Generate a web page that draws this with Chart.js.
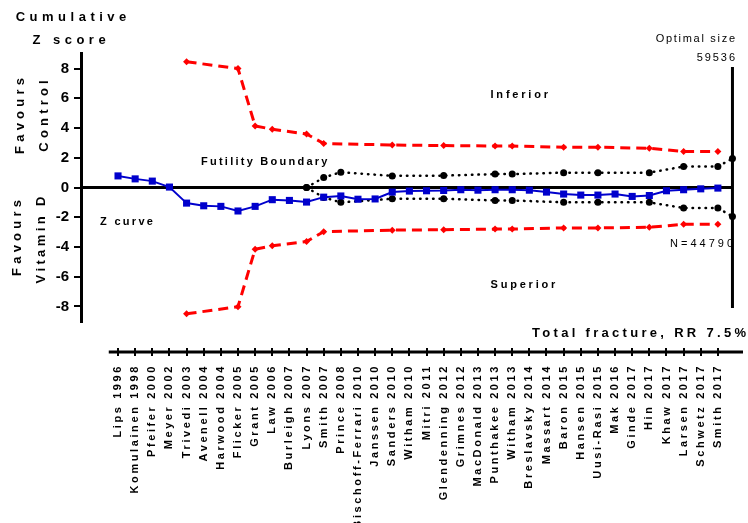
<!DOCTYPE html>
<html>
<head>
<meta charset="utf-8">
<script src="https://cdn.jsdelivr.net/npm/chart.js@4.4.1/dist/chart.umd.min.js"></script>
<style>
  html, body { margin: 0; padding: 0; background: #fff; }
  #wrap { width: 748px; height: 523px; }
</style>
</head>
<body>
<div id="wrap"><canvas id="c" width="748" height="523"></canvas></div>
<script>
// Trials in order of accrual (one position each on the horizontal axis)
const trials = [
  'Lips 1996', 'Komulainen 1998', 'Pfeifer 2000', 'Meyer 2002', 'Trivedi 2003',
  'Avenell 2004', 'Harwood 2004', 'Flicker 2005', 'Grant 2005', 'Law 2006',
  'Burleigh 2007', 'Lyons 2007', 'Smith 2007', 'Prince 2008', 'Bischoff-Ferrari 2010',
  'Janssen 2010', 'Sanders 2010', 'Witham 2010', 'Mitri 2011', 'Glendenning 2012',
  'Grimnes 2012', 'MacDonald 2013', 'Punthakee 2013', 'Witham 2013', 'Breslavsky 2014',
  'Massart 2014', 'Baron 2015', 'Hansen 2015', 'Uusi-Rasi 2015', 'Mak 2016',
  'Ginde 2017', 'Hin 2017', 'Khaw 2017', 'Larsen 2017', 'Schwetz 2017', 'Smith 2017'
];

// Cumulative Z score after each trial
const zCurve = [
  0.78, 0.58, 0.43, 0.03, -1.05, -1.23, -1.27, -1.58, -1.27, -0.82,
  -0.87, -0.98, -0.65, -0.57, -0.79, -0.77, -0.31, -0.24, -0.22, -0.20,
  -0.15, -0.18, -0.15, -0.15, -0.18, -0.31, -0.44, -0.51, -0.51, -0.44,
  -0.60, -0.54, -0.22, -0.15, -0.09, -0.04
];

// Monitoring boundaries for benefit / harm (red)
const boundaryAt = [4, 7, 8, 9, 11, 12, 16, 19, 22, 23, 26, 28, 31, 33, 35];
const harmBoundary = [8.46, 8.00, 4.14, 3.92, 3.60, 2.96, 2.86, 2.82, 2.79, 2.79, 2.71, 2.71, 2.64, 2.42, 2.42];
const benefitBoundary = [-8.50, -8.02, -4.15, -3.92, -3.64, -2.97, -2.87, -2.84, -2.80, -2.80, -2.72, -2.72, -2.68, -2.47, -2.47];

// Futility boundaries (black, dotted); the last look sits on the optimal-size line
const optimalSizeAt = 35.85;
const futilityAt = [11, 12, 13, 16, 19, 22, 23, 26, 28, 31, 33, 35, optimalSizeAt];
const futilityUpper = [0, 0.67, 1.03, 0.78, 0.80, 0.90, 0.90, 1.00, 1.00, 1.00, 1.41, 1.41, 1.95];
const futilityLower = [0, -0.67, -1.00, -0.76, -0.76, -0.87, -0.87, -1.00, -1.00, -1.00, -1.38, -1.38, -1.95];

// Vertical extent of the optimal information size marker
const optimalSizeSpan = [8.1, -8.1];

const zTicks = [-8, -6, -4, -2, 0, 2, 4, 6, 8];

// ---- layout ----
const FONT = "'Liberation Sans', Arial, sans-serif";
const X_MIN = -2.16, X_MAX = 36.465;
const Y_MIN = -9.05, Y_MAX = 9.05;
const TRIAL_AXIS_START = -0.54;

const pts = (xs, ys) => ys.map((y, i) => ({ x: xs[i], y }));

// Bold, widely tracked tick labels on the trial axis
const trackedTicks = {
  id: 'trackedTicks',
  afterLayout(chart) {
    const s = chart.scales.x;
    if (s._tracked) return;
    const orig = s.drawLabels;
    s.drawLabels = function (area) {
      const ctx = this.ctx;
      ctx.save();
      ctx.letterSpacing = '2.6px';
      orig.call(this, area);
      ctx.restore();
    };
    s._tracked = true;
  }
};

// Trial axis line with crossing tick marks, below the plot
const trialAxisLine = {
  id: 'trialAxisLine',
  afterDraw(chart) {
    const s = chart.scales.x;
    const ctx = chart.ctx;
    const y = s.top;
    ctx.save();
    ctx.strokeStyle = '#000';
    ctx.lineWidth = 3;
    ctx.beginPath();
    ctx.moveTo(s.getPixelForValue(TRIAL_AXIS_START), y);
    ctx.lineTo(s.right, y);
    ctx.stroke();
    ctx.lineWidth = 2;
    s.ticks.forEach((t, i) => {
      const px = Math.round(s.getPixelForTick(i));
      ctx.beginPath();
      ctx.moveTo(px, y - 4);
      ctx.lineTo(px, y + 4);
      ctx.stroke();
    });
    ctx.restore();
  }
};

// Free text on the chart
const notes = [
  { text: 'Cumulative', x: 71, y: 17, size: 13, bold: true, sp: 4.5, align: 'center' },
  { text: 'Z score', x: 69, y: 40, size: 13, bold: true, sp: 4.5, align: 'center' },
  { text: 'Favours', x: 20, y: 116, size: 13, bold: true, sp: 4.2, align: 'center', vertical: true },
  { text: 'Control', x: 44.5, y: 116, size: 13, bold: true, sp: 4.2, align: 'center', vertical: true },
  { text: 'Favours', x: 17, y: 238, size: 13, bold: true, sp: 4.2, align: 'center', vertical: true },
  { text: 'Vitamin D', x: 41, y: 240, size: 13, bold: true, sp: 3.4, align: 'center', vertical: true },
  { text: 'Z curve', x: 100, y: 222, size: 11, bold: true, sp: 2.3, align: 'left' },
  { text: 'Futility Boundary', x: 201, y: 162, size: 11, bold: true, sp: 2.25, align: 'left' },
  { text: 'Inferior', x: 490.5, y: 95, size: 11, bold: true, sp: 2.8, align: 'left' },
  { text: 'Superior', x: 490.5, y: 285, size: 11, bold: true, sp: 2.8, align: 'left' },
  { text: 'Optimal size', x: 735, y: 39, size: 11, bold: false, sp: 1.7, align: 'right' },
  { text: '59536', x: 735, y: 58, size: 11, bold: false, sp: 1.9, align: 'right' },
  { text: 'N=44790', x: 733, y: 244, size: 11, bold: false, sp: 3, align: 'right' },
  { text: 'Total fracture, RR 7.5%', x: 746, y: 333, size: 13, bold: true, sp: 3.3, align: 'right' }
];

const notesPlugin = {
  id: 'notes',
  afterDraw(chart) {
    const ctx = chart.ctx;
    notes.forEach(n => {
      ctx.save();
      ctx.font = (n.bold ? 'bold ' : '') + n.size + 'px ' + FONT;
      ctx.letterSpacing = n.sp + 'px';
      ctx.fillStyle = '#000';
      ctx.textBaseline = 'middle';
      ctx.textAlign = n.align;
      // canvas adds tracking after the last glyph too; shift to compensate
      const shift = n.align === 'right' ? n.sp : n.align === 'center' ? n.sp / 2 : 0;
      if (n.vertical) {
        ctx.translate(n.x, n.y);
        ctx.rotate(-Math.PI / 2);
        ctx.fillText(n.text, shift, 0);
      } else {
        ctx.fillText(n.text, n.x + shift, n.y);
      }
      ctx.restore();
    });
  }
};

const RED = '#FF0000';
const BLUE = '#0000CC';

new Chart(document.getElementById('c'), {
  type: 'line',
  data: {
    datasets: [
      {
        label: 'Z curve',
        data: pts(zCurve.map((_, i) => i), zCurve),
        borderColor: BLUE, borderWidth: 2,
        pointStyle: 'rect', pointRadius: 5, pointBorderWidth: 0,
        pointBackgroundColor: BLUE, tension: 0
      },
      {
        label: 'Futility upper',
        data: pts(futilityAt, futilityUpper),
        borderColor: '#000', borderWidth: 2.5, borderDash: [0.5, 6], borderCapStyle: 'round',
        pointRadius: 3.5, pointBorderWidth: 0, pointBackgroundColor: '#000'
      },
      {
        label: 'Futility lower',
        data: pts(futilityAt, futilityLower),
        borderColor: '#000', borderWidth: 2.5, borderDash: [0.5, 6], borderCapStyle: 'round',
        pointRadius: 3.5, pointBorderWidth: 0, pointBackgroundColor: '#000'
      },
      {
        label: 'Harm boundary',
        data: pts(boundaryAt, harmBoundary),
        borderColor: RED, borderWidth: 3, borderDash: [10, 6],
        pointStyle: 'rectRot', pointRadius: 3.5, pointBorderWidth: 0, pointBackgroundColor: RED
      },
      {
        label: 'Benefit boundary',
        data: pts(boundaryAt, benefitBoundary),
        borderColor: RED, borderWidth: 3, borderDash: [10, 6],
        pointStyle: 'rectRot', pointRadius: 3.5, pointBorderWidth: 0, pointBackgroundColor: RED
      },
      {
        label: 'Optimal size',
        data: pts([optimalSizeAt, optimalSizeAt], optimalSizeSpan),
        borderColor: '#000', borderWidth: 3, pointRadius: 0
      },
      {
        label: 'Zero',
        data: pts([X_MIN, optimalSizeAt], [0, 0]),
        borderColor: '#000', borderWidth: 3, pointRadius: 0
      }
    ]
  },
  options: {
    responsive: false,
    animation: false,
    devicePixelRatio: 1,
    layout: { padding: { top: 53, left: 0, right: 0, bottom: 0 } },
    plugins: { legend: { display: false }, tooltip: { enabled: false } },
    scales: {
      x: {
        type: 'linear', position: 'bottom', weight: 1,
        min: X_MIN, max: X_MAX,
        afterBuildTicks: s => { s.ticks = trials.map((_, i) => ({ value: i })); },
        afterFit: s => { s.height = 171; },
        grid: { display: false, drawTicks: false },
        border: { display: false },
        ticks: {
          autoSkip: false, maxRotation: 90, minRotation: 90, padding: 12,
          color: '#000', font: { family: FONT, size: 11, weight: 'bold' },
          callback: v => trials[v] ?? ''
        }
      },
      gap: {
        type: 'linear', position: 'bottom', weight: 0,
        min: X_MIN, max: X_MAX,
        afterFit: s => { s.height = 30; },
        ticks: { display: false },
        grid: { display: false, drawTicks: false },
        border: { display: false }
      },
      y: {
        type: 'linear', position: 'left',
        min: Y_MIN, max: Y_MAX,
        afterBuildTicks: s => { s.ticks = zTicks.map(v => ({ value: v })); },
        afterFit: s => { s.width = 81; },
        grid: { drawOnChartArea: false, tickLength: 7, lineWidth: 2, color: '#000' },
        border: { width: 3, color: '#000' },
        ticks: { padding: 5, color: '#000', font: { family: FONT, size: 15, weight: 'bold' } }
      }
    }
  },
  plugins: [trackedTicks, trialAxisLine, notesPlugin]
});
</script>
</body>
</html>
